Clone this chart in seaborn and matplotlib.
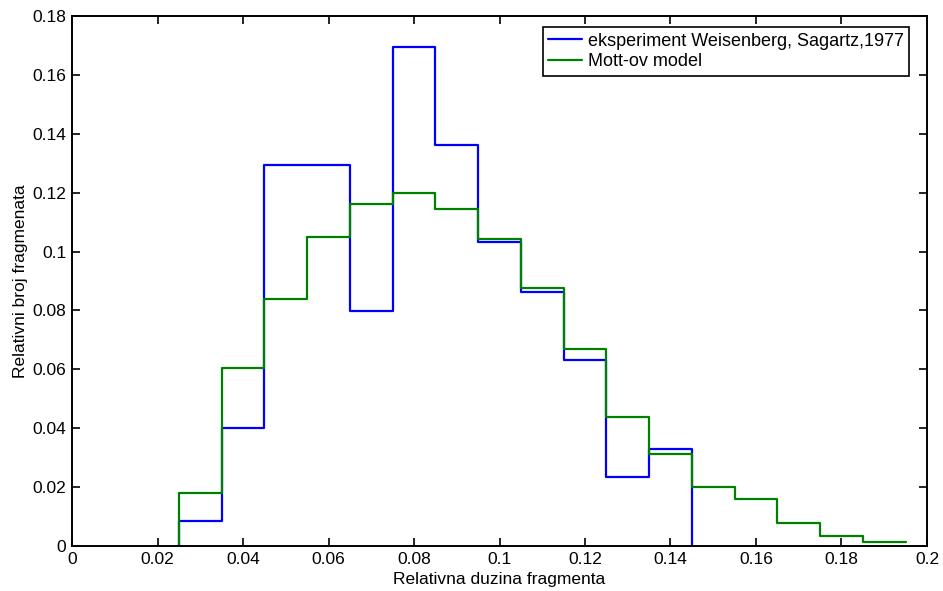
import numpy as np
import pandas as pd
import matplotlib
matplotlib.use("Agg")
import matplotlib.pyplot as plt
from matplotlib.ticker import FuncFormatter
import seaborn as sns

# Left bin edges (relative fragment length) and relative fragment counts
edges_exp = [0.025, 0.035, 0.045, 0.055, 0.065, 0.075, 0.085, 0.095,
             0.105, 0.115, 0.125, 0.135, 0.145]
counts_exp = [0.0085, 0.0400, 0.1294, 0.1294, 0.0797, 0.1693, 0.1362, 0.1031,
              0.0864, 0.0632, 0.0235, 0.0331]

edges_mott = [0.025, 0.035, 0.045, 0.055, 0.065, 0.075, 0.085, 0.095,
              0.105, 0.115, 0.125, 0.135, 0.145, 0.155, 0.165, 0.175,
              0.185, 0.195]
counts_mott = [0.0180, 0.0604, 0.0839, 0.1050, 0.1162, 0.1200, 0.1144, 0.1044,
               0.0877, 0.0670, 0.0438, 0.0313, 0.0202, 0.0158, 0.0079, 0.0034,
               0.0013]

label_exp = "eksperiment Weisenberg, Sagartz,1977"
label_mott = "Mott-ov model"


def step_frame(edges, counts, close_to_zero):
    # start from zero at the first edge, end at the last edge
    x = [edges[0]] + list(edges)
    y = [0.0] + list(counts) + [0.0 if close_to_zero else counts[-1]]
    return pd.DataFrame({"x": x, "y": y})


sns.set_style("ticks")
plt.rcParams["font.family"] = ["Liberation Sans", "DejaVu Sans"]
plt.rcParams["xtick.direction"] = "in"
plt.rcParams["ytick.direction"] = "in"
plt.rcParams["text.color"] = "black"
plt.rcParams["axes.labelcolor"] = "black"
plt.rcParams["xtick.labelcolor"] = "black"
plt.rcParams["ytick.labelcolor"] = "black"

fig = plt.figure(figsize=(9.43, 5.91), dpi=100)
ax = fig.add_axes([0.0764, 0.0761, 0.9066, 0.8969])

df_exp = step_frame(edges_exp, counts_exp, True)
df_mott = step_frame(edges_mott, counts_mott, False)

sns.lineplot(data=df_exp, x="x", y="y", ax=ax, sort=False, estimator=None,
             drawstyle="steps-post", color=(0, 0, 1), linewidth=1.6,
             label=label_exp)
sns.lineplot(data=df_mott, x="x", y="y", ax=ax, sort=False, estimator=None,
             drawstyle="steps-post", color=(0, 0.5, 0), linewidth=1.6,
             label=label_mott)

ax.set_xlim(0, 0.2)
ax.set_ylim(0, 0.18)
ax.set_xticks(np.arange(0, 0.2001, 0.02))
ax.set_yticks(np.arange(0, 0.1801, 0.02))
fmt = FuncFormatter(lambda v, p: "%g" % round(v, 4))
ax.xaxis.set_major_formatter(fmt)
ax.yaxis.set_major_formatter(fmt)
ax.tick_params(axis="both", which="major", labelsize=12.5, length=6,
               width=1.2, color="black", top=True, right=True, pad=4)

for s in ax.spines.values():
    s.set_visible(True)
    s.set_color("black")
    s.set_linewidth(1.4)

ax.set_xlabel("Relativna duzina fragmenta", fontsize=12.5, labelpad=4)
ax.set_ylabel("Relativni broj fragmenata", fontsize=12.5, labelpad=3)

leg = ax.legend(loc="upper right", bbox_to_anchor=(0.979, 0.979),
                fontsize=13, handlelength=1.9, handletextpad=0.3,
                borderpad=0.3, labelspacing=0.2, borderaxespad=0,
                fancybox=False, framealpha=1, edgecolor="black")
leg.get_frame().set_linewidth(1.2)

fig.savefig("out.png", dpi=100, facecolor="white")
